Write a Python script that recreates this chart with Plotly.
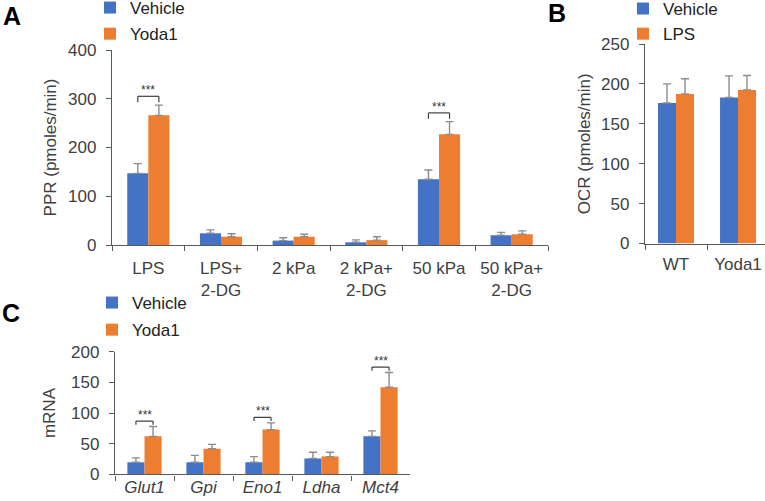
import plotly.graph_objects as go

# ---------------- data ----------------
# Panel A: PPR
a_categories = ["LPS", "LPS+<br>2-DG", "2 kPa", "2 kPa+<br>2-DG", "50 kPa", "50 kPa+<br>2-DG"]
a_vehicle = [147, 24, 9, 5.5, 135, 20]
a_vehicle_err = [20, 7, 6, 5, 19, 6]
a_yoda1 = [266, 17, 17, 10, 227, 22]
a_yoda1_err = [21, 6, 5, 7, 26, 7]
a_sig = [0, 4]  # category indices with ***

# Panel B: OCR
b_categories = ["WT", "Yoda1"]
b_vehicle = [176, 183]
b_vehicle_err = [24, 27]
b_lps = [187.5, 192.5]
b_lps_err = [19, 18]

# Panel C: mRNA
c_categories = ["<i>Glut1</i>", "<i>Gpi</i>", "<i>Eno1</i>", "<i>Ldha</i>", "<i>Mct4</i>"]
c_vehicle = [20, 20, 20, 26, 62]
c_vehicle_err = [7, 11, 9, 10, 9]
c_yoda1 = [62, 42, 73, 29, 142]
c_yoda1_err = [16, 7, 11, 7, 24]
c_sig = [0, 2, 4]

# ---------------- style ----------------
W, H = 765, 501
BLUE = "#4472C4"
ORANGE = "#ED7D31"
ERR = "#8c8c8c"
AX = "#595959"
TXT = "#404040"
FONT = "Liberation Sans, Arial, sans-serif"
BARGAP = 0.42
HALF = (1 - BARGAP) / 4  # offset of each bar centre from category centre


def px_x(p):
    return p / W


def px_y(p):
    return 1 - p / H


fig = go.Figure()


def add_bars(cats, v1, e1, v2, e2, n1, n2, xa, ya, leg):
    fig.add_trace(go.Bar(x=cats, y=v1, name=n1, marker=dict(color=BLUE, line=dict(width=0)),
                         error_y=dict(type="data", array=e1, arrayminus=[0] * len(e1), symmetric=False,
                                      color=ERR, thickness=1.4, width=4),
                         xaxis=xa, yaxis=ya, legend=leg, legendgroup=leg + "a"))
    fig.add_trace(go.Bar(x=cats, y=v2, name=n2, marker=dict(color=ORANGE, line=dict(width=0)),
                         error_y=dict(type="data", array=e2, arrayminus=[0] * len(e2), symmetric=False,
                                      color=ERR, thickness=1.4, width=4),
                         xaxis=xa, yaxis=ya, legend=leg, legendgroup=leg + "b"))


add_bars(a_categories, a_vehicle, a_vehicle_err, a_yoda1, a_yoda1_err, "Vehicle", "Yoda1", "x", "y", "legend")
add_bars(b_categories, b_vehicle, b_vehicle_err, b_lps, b_lps_err, "Vehicle", "LPS", "x2", "y2", "legend2")
add_bars(c_categories, c_vehicle, c_vehicle_err, c_yoda1, c_yoda1_err, "Vehicle", "Yoda1", "x3", "y3", "legend3")


def brackets(sig, v1, e1, v2, e2, yr, xref, yref):
    for i in sig:
        top = max(v1[i] + e1[i], v2[i] + e2[i])
        yb = top + 0.045 * yr
        tail = 0.03 * yr
        x0, x1 = i - HALF, i + HALF
        line = dict(color="#404040", width=1.2)
        fig.add_shape(type="line", xref=xref, yref=yref, x0=x0, x1=x1, y0=yb, y1=yb, line=line)
        fig.add_shape(type="line", xref=xref, yref=yref, x0=x0, x1=x0, y0=yb, y1=yb - tail, line=line)
        fig.add_shape(type="line", xref=xref, yref=yref, x0=x1, x1=x1, y0=yb, y1=yb - tail, line=line)
        fig.add_annotation(x=i, y=yb, xref=xref, yref=yref, text="***", showarrow=False,
                           yanchor="bottom", yshift=-3, font=dict(size=12, color="#333333", family=FONT))


brackets(a_sig, a_vehicle, a_vehicle_err, a_yoda1, a_yoda1_err, 400, "x", "y")
brackets(c_sig, c_vehicle, c_vehicle_err, c_yoda1, c_yoda1_err, 200, "x3", "y3")

tickfont = dict(family=FONT, size=17, color=TXT)
titlefont = dict(family=FONT, size=17, color=TXT)
xcommon = dict(type="category", showline=True, linecolor=AX, linewidth=1.3, ticks="outside",
               tickson="boundaries", ticklen=5, tickcolor=AX, tickwidth=1.3, showgrid=False,
               zeroline=False, tickfont=tickfont, automargin=False)
ycommon = dict(showline=True, linecolor=AX, linewidth=1.3, ticks="outside", ticklen=5, tickcolor=AX,
               tickwidth=1.3, showgrid=False, zeroline=False, tickfont=tickfont, ticklabelstandoff=6,
               automargin=False)

legfont = dict(family=FONT, size=17, color="#222222")
fig.update_layout(
    width=W, height=H, margin=dict(l=0, r=0, t=0, b=0, autoexpand=False),
    paper_bgcolor="white", plot_bgcolor="white",
    barmode="group", bargap=BARGAP, bargroupgap=0,
    font=dict(family=FONT, color=TXT),
    xaxis=dict(domain=[px_x(112), px_x(548)], anchor="y", range=[-0.5, 5.5],
               ticklabelstandoff=7, **xcommon),
    yaxis=dict(domain=[px_y(245), px_y(50)], anchor="x", range=[0, 400], dtick=100,
               title=dict(text="PPR (pmoles/min)", font=titlefont, standoff=7), **ycommon),
    xaxis2=dict(domain=[px_x(645), 1.0], anchor="y2", range=[-0.5, 1.435],
                ticklabelstandoff=5, **xcommon),
    yaxis2=dict(domain=[px_y(243.5), px_y(44)], anchor="x2", range=[0, 250], dtick=50,
                title=dict(text="OCR (pmoles/min)", font=titlefont, standoff=6), **ycommon),
    xaxis3=dict(domain=[px_x(115), px_x(410)], anchor="y3", range=[-0.5, 4.5],
                ticklabelstandoff=-3, **xcommon),
    yaxis3=dict(domain=[px_y(474.4), px_y(351.7)], anchor="x3", range=[0, 200], dtick=50,
                title=dict(text="mRNA", font=titlefont, standoff=11), **ycommon),
    legend=dict(x=px_x(90), y=px_y(-10), xanchor="left", yanchor="top", bgcolor="rgba(0,0,0,0)",
                font=legfont, tracegroupgap=1, itemwidth=30),
    legend2=dict(x=px_x(623), y=px_y(-9), xanchor="left", yanchor="top", bgcolor="rgba(0,0,0,0)",
                 font=legfont, tracegroupgap=0, itemwidth=30),
    legend3=dict(x=px_x(92), y=px_y(285), xanchor="left", yanchor="top", bgcolor="rgba(0,0,0,0)",
                 font=legfont, tracegroupgap=2, itemwidth=30),
)

for txt, x, y in [("A", 1, 16), ("B", 546, 13), ("C", 0, 313)]:
    fig.add_annotation(x=px_x(x), y=px_y(y), xref="paper", yref="paper", text="<b>%s</b>" % txt,
                       showarrow=False, xanchor="left", yanchor="middle",
                       font=dict(family=FONT, size=25, color="#000000"))

fig.write_html("out.html", config={"displayModeBar": False},
               post_script="document.body.style.margin='0px';")
